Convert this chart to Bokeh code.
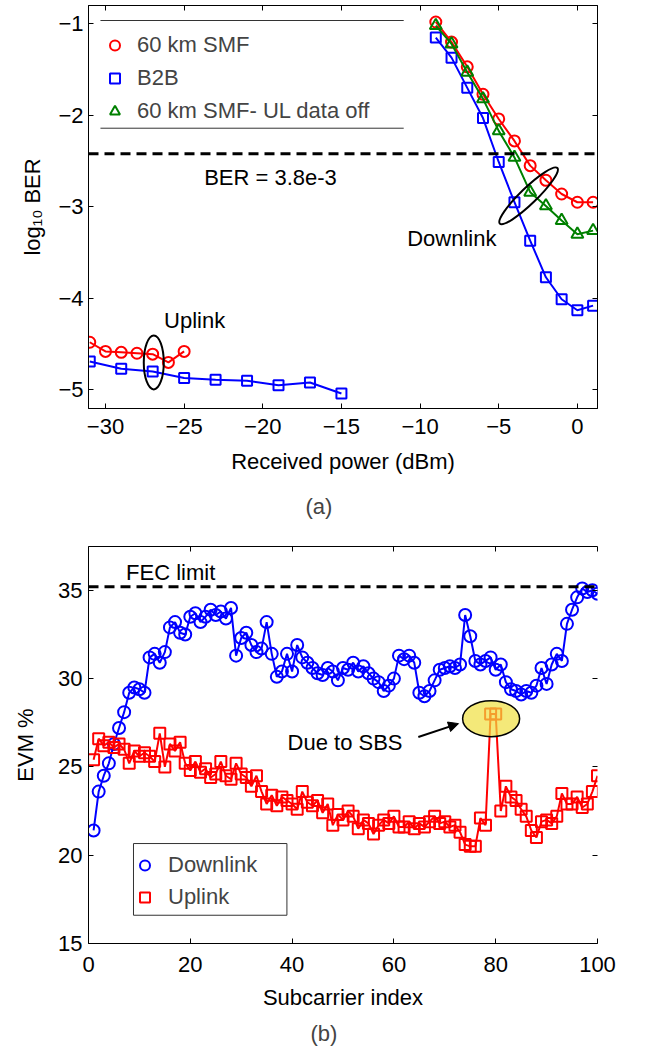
import math
from bokeh.plotting import figure
from bokeh.layouts import column
from bokeh.models import (Range1d, LinearAxis, Span, Label, Legend, LegendItem, Title,
                          Arrow, NormalHead, FixedTicker, BoxAnnotation)
from bokeh.embed import file_html
from bokeh.resources import INLINE

FONT = "Liberation Sans"
FS = "22px"

# ---------------- Panel (a) data ----------------
ul_smf_x = [-31, -30, -29, -28, -27, -26, -25]
ul_smf_y = [-4.48, -4.58, -4.59, -4.60, -4.61, -4.70, -4.58]
ul_b2b_x = [-31, -29, -27, -25, -23, -21, -19, -17, -15]
ul_b2b_y = [-4.69, -4.77, -4.80, -4.87, -4.89, -4.90, -4.95, -4.92, -5.04]
dl_x = [-9, -8, -7, -6, -5, -4, -3, -2, -1, 0, 1]
dl_smf_y = [-0.98, -1.20, -1.47, -1.77, -2.04, -2.28, -2.55, -2.71, -2.86, -2.95, -2.95]
dl_b2b_y = [-1.15, -1.37, -1.70, -2.03, -2.51, -2.95, -3.37, -3.77, -4.01, -4.13, -4.08]
dl_uloff_y = [-1.02, -1.22, -1.53, -1.82, -2.17, -2.46, -2.84, -2.99, -3.15, -3.30, -3.26]
a_xticks = [-30, -25, -20, -15, -10, -5, 0]
a_yticks = [-5, -4, -3, -2, -1]
ber_limit = math.log10(3.8e-3)

# ---------------- Panel (b) data ----------------
subcarrier = list(range(1, 101))
evm_downlink = [
    21.4, 23.6, 24.5, 25.2, 26.3, 27.2, 28.1, 29.2, 29.5, 29.4,
    29.2, 31.2, 31.4, 30.9, 31.5, 32.9, 33.2, 32.6, 32.5, 33.5,
    33.7, 33.2, 33.5, 33.9, 33.6, 33.8, 33.4, 34.0, 31.3, 32.3,
    32.6, 31.9, 31.5, 31.7, 33.2, 31.4, 30.1, 30.4, 31.4, 30.4,
    31.9, 31.2, 30.9, 30.6, 30.3, 30.2, 30.6, 30.4, 29.9, 30.6,
    30.5, 30.9, 30.4, 30.7, 30.3, 30.0, 29.8, 29.3, 29.6, 30.0,
    31.3, 31.1, 31.3, 30.9, 29.2, 29.0, 29.3, 29.9, 30.5, 30.6,
    30.7, 30.6, 30.8, 33.6, 32.4, 31.0, 30.8, 31.0, 31.2, 30.5,
    30.8, 29.8, 29.4, 29.3, 29.1, 29.3, 29.2, 29.6, 30.6, 29.7,
    30.8, 31.4, 31.0, 33.1, 33.9, 34.6, 35.1, 34.9, 35.0, 34.8]
evm_uplink = [
    25.4, 26.6, 26.2, 26.4, 26.1, 26.3, 26.0, 25.2, 25.9, 25.6,
    25.8, 25.6, 25.3, 26.9, 25.0, 26.3, 25.9, 26.4, 25.2, 24.8,
    25.3, 24.7, 24.9, 24.4, 24.6, 25.3, 24.5, 24.3, 25.2, 24.6,
    24.4, 23.9, 24.5, 23.6, 22.9, 23.4, 22.8, 23.3, 23.1, 22.9,
    22.6, 23.6, 23.0, 22.8, 23.1, 22.4, 22.9, 21.7, 22.3, 22.0,
    22.5, 22.2, 21.5, 22.0, 21.8, 21.2, 21.7, 22.0, 21.8, 22.2,
    21.6, 21.6, 21.9, 21.5, 21.8, 21.6, 21.9, 22.2, 21.8, 21.9,
    21.6, 21.7, 21.3, 20.6, 20.5, 20.5, 22.1, 21.7, 28.0, 28.0,
    22.5, 23.9, 23.3, 23.1, 22.6, 22.2, 21.4, 21.0, 21.9, 22.0,
    21.8, 22.2, 23.5, 22.9, 22.9, 23.3, 22.7, 22.9, 23.6, 24.5]
b_xticks = [0, 20, 40, 60, 80, 100]
b_yticks = [15, 20, 25, 30, 35]
fec_limit = 35.2


def style(p, xticks, yticks, xlabel, ylabel, right_line=True, outline=True):
    p.grid.visible = False
    p.outline_line_color = "black" if outline else None
    p.background_fill_color = "white"
    p.border_fill_color = "white"
    bottom, left = p.below[0], p.left[0]
    bottom.ticker = FixedTicker(ticks=xticks)
    left.ticker = FixedTicker(ticks=yticks)
    for ax in (bottom, left):
        ax.major_tick_in = 5
        ax.major_tick_out = 0
        ax.minor_tick_line_color = None
        ax.axis_line_color = "black"
        ax.major_tick_line_color = "black"
        ax.major_label_text_font = FONT
        ax.major_label_text_font_size = FS
        ax.major_label_text_color = "black"
        ax.axis_label_text_font = FONT
        ax.axis_label_text_font_size = FS
        ax.axis_label_text_font_style = "normal"
        ax.axis_label_text_color = "black"
    bottom.axis_label = xlabel
    left.axis_label = ylabel
    # mirrored tick marks on top and right (no labels drawn)
    top = LinearAxis(ticker=FixedTicker(ticks=xticks), major_label_text_font_size="0px",
                     major_label_text_color=None, major_label_standoff=0,
                     major_tick_in=5, major_tick_out=0,
                     minor_tick_line_color=None, axis_line_color="black")
    right = LinearAxis(ticker=FixedTicker(ticks=yticks), major_label_text_font_size="0px",
                       major_label_text_color=None, major_label_standoff=0,
                       major_tick_in=5, major_tick_out=0, minor_tick_line_color=None,
                       axis_line_color="black" if right_line else None)
    p.add_layout(top, "above")
    p.add_layout(right, "right")
    return bottom, left


# ================= Panel (a) =================
pa = figure(frame_width=509, frame_height=403, min_border_left=88, min_border_right=45,
            min_border_top=5, min_border_bottom=0,
            x_range=Range1d(-31.08, 1.28), y_range=Range1d(-5.204, -0.80),
            output_backend="svg", toolbar_location=None)
xa, ya = style(pa, a_xticks, a_yticks, "Received power (dBm)", "log\u2081\u2080 BER")
xa.major_label_standoff = 10
xa.axis_label_standoff = 12
ya.major_label_standoff = 5
ya.axis_label_standoff = 10

pa.add_layout(Span(location=ber_limit, dimension="width", line_color="black",
                   line_width=3, line_dash="10 6"))

MS_A = 11
pa.line(ul_smf_x, ul_smf_y, line_color="red", line_width=2)
r_smf = pa.scatter(ul_smf_x, ul_smf_y, marker="circle", size=MS_A, line_color="red",
                   fill_color=None, line_width=2)
pa.line(ul_b2b_x, ul_b2b_y, line_color="blue", line_width=2)
r_b2b = pa.scatter(ul_b2b_x, ul_b2b_y, marker="square", size=MS_A - 1, line_color="blue",
                   fill_color=None, line_width=2)
pa.line(dl_x, dl_smf_y, line_color="red", line_width=2)
pa.scatter(dl_x, dl_smf_y, marker="circle", size=MS_A, line_color="red",
           fill_color=None, line_width=2)
pa.line(dl_x, dl_b2b_y, line_color="blue", line_width=2)
pa.scatter(dl_x, dl_b2b_y, marker="square", size=MS_A - 1, line_color="blue",
           fill_color=None, line_width=2)
pa.line(dl_x, dl_uloff_y, line_color="green", line_width=2)
r_off = pa.scatter(dl_x, dl_uloff_y, marker="triangle", size=MS_A + 1, line_color="green",
                   fill_color=None, line_width=2)

pa.ellipse(x=[-26.93], y=[-4.70], width=20, height=54, width_units="screen",
           height_units="screen", fill_color=None, line_color="black", line_width=2)
pa.ellipse(x=[-3.1], y=[-2.88], width=80, height=16, angle=math.radians(44),
           width_units="screen", height_units="screen", fill_color=None,
           line_color="black", line_width=2)

# legend frame lines (top and bottom only, as in the reference)
pa.segment(x0=[-30.32, -30.32], y0=[-0.964, -2.141], x1=[-11.04, -11.04],
           y1=[-0.964, -2.141], line_color="#333333", line_width=1)

for txt, x, y in (("BER = 3.8e-3", -19.51, -2.68), ("Downlink", -7.98, -3.35),
                  ("Uplink", -24.33, -4.24)):
    pa.add_layout(Label(x=x, y=y, text=txt, text_align="center", text_baseline="middle",
                        text_font=FONT, text_font_size=FS, text_color="black"))

leg_a = Legend(items=[LegendItem(label="60 km SMF", renderers=[r_smf]),
                      LegendItem(label="B2B", renderers=[r_b2b]),
                      LegendItem(label="60 km SMF- UL data off", renderers=[r_off])],
               location=(14, 284), margin=0, padding=2, glyph_width=25, glyph_height=26,
               label_height=26, spacing=7, label_standoff=10, border_line_color=None,
               background_fill_alpha=0, label_text_font=FONT, label_text_font_size=FS)
pa.add_layout(leg_a)
pa.add_layout(Title(text="(a)", align="left", offset=217, text_font=FONT,
                    text_font_size=FS, text_font_style="normal", standoff=31), "below")

# ================= Panel (b) =================
pb = figure(frame_width=509, frame_height=397, min_border_left=88, min_border_right=45,
            min_border_top=12, min_border_bottom=0,
            x_range=Range1d(0, 100), y_range=Range1d(15, 37.48),
            output_backend="svg", toolbar_location=None)
xb, yb = style(pb, b_xticks, b_yticks, "Subcarrier index", "EVM %", right_line=False,
               outline=False)
xb.major_label_standoff = 13
xb.axis_label_standoff = 10
yb.major_label_standoff = 6
yb.axis_label_standoff = 17

pb.add_layout(Span(location=fec_limit, dimension="width", line_color="black",
                   line_width=3, line_dash="10 6"))

MS_B = 12
pb.line(subcarrier, evm_downlink, line_color="blue", line_width=2)
r_dl = pb.scatter(subcarrier, evm_downlink, marker="circle", size=MS_B, line_color="blue",
                  fill_color=None, line_width=2)
pb.line(subcarrier, evm_uplink, line_color="red", line_width=2)
r_ul = pb.scatter(subcarrier, evm_uplink, marker="square", size=MS_B - 1, line_color="red",
                  fill_color=None, line_width=2)

pb.ellipse(x=[79.1], y=[27.73], width=57, height=36, width_units="screen",
           height_units="screen", fill_color="#f0e040", fill_alpha=0.7,
           line_color="black", line_width=1.5)
pb.add_layout(Arrow(end=NormalHead(size=10, fill_color="black", line_color="black"),
                    x_start=64.8, y_start=26.69, x_end=72.7, y_end=27.45,
                    line_color="black", line_width=2))

for txt, x, y in (("FEC limit", 16.15, 36.0), ("Due to SBS", 50.4, 26.36)):
    pb.add_layout(Label(x=x, y=y, text=txt, text_align="center", text_baseline="middle",
                        text_font=FONT, text_font_size=FS, text_color="black"))

pb.add_layout(BoxAnnotation(left=8.84, right=38.98, bottom=16.60, top=20.66,
                            fill_color="white", fill_alpha=1.0, line_color="#333333",
                            line_width=1, line_alpha=1.0))
leg_b = Legend(items=[LegendItem(label="Downlink", renderers=[r_dl]),
                      LegendItem(label="Uplink", renderers=[r_ul])],
               location=(44, 33), margin=0, padding=2, glyph_width=25, glyph_height=26,
               label_height=26, spacing=6, label_standoff=11, border_line_color=None,
               background_fill_alpha=0,
               label_text_font=FONT, label_text_font_size=FS)
pb.add_layout(leg_b)
pb.add_layout(Title(text="(b)", align="left", offset=222, text_font=FONT,
                    text_font_size=FS, text_font_style="normal", standoff=12), "below")

layout = column(pa, pb)
open("out.html", "w").write(file_html(layout, INLINE))
